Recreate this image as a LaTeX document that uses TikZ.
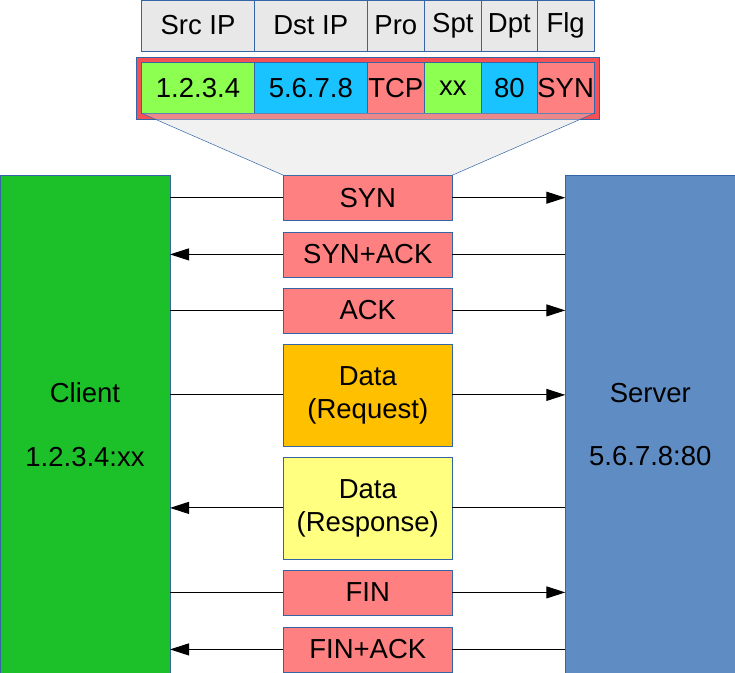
\documentclass[tikz,border=0pt]{standalone}
\usepackage{fontspec}
\setmainfont{Liberation Sans}
\usepackage{xcolor}
\usepackage{tikz}
\usetikzlibrary{arrows.meta,calc,positioning}
\definecolor{edgeblue}{HTML}{3465A4}
\definecolor{hdrgray}{HTML}{E8E8E8}
\definecolor{pktred}{HTML}{F55055}
\definecolor{ipgreen}{HTML}{8CFF50}
\definecolor{portcyan}{HTML}{18C3FF}
\definecolor{msgpink}{HTML}{FF8080}
\definecolor{reqorange}{HTML}{FFC000}
\definecolor{respyellow}{HTML}{FFFF80}
\definecolor{clientgreen}{HTML}{1CC12A}
\definecolor{serverblue}{HTML}{5F8CC3}
\definecolor{zoomgray}{HTML}{DCDCDC}
\tikzstyle{hdr}=[draw=edgeblue,fill=hdrgray,minimum height=51pt,inner sep=0pt,outer sep=0pt]
\tikzstyle{cell}=[draw=edgeblue,minimum height=51pt,inner sep=0pt,outer sep=0pt]
\tikzstyle{msg}=[draw=edgeblue,fill=msgpink,minimum width=169pt,minimum height=45pt,inner sep=0pt,outer sep=0pt,align=center]
\tikzstyle{host}=[draw=edgeblue,minimum width=170pt,minimum height=499pt,anchor=north west,outer sep=0pt,align=center]

\begin{document}
\begin{tikzpicture}[
            >={Triangle[length=19pt,width=12pt]},
            x=1pt, y=-1pt,
            font=\fontsize{27.5}{33}\selectfont,
            line width=0.8pt
        ]
        \useasboundingbox (0,0) rectangle (735,672);
        \clip (0,0) rectangle (735,672);
        % header row
        \node [hdr,minimum width=112.6pt] (hsrc) at (198,25.5) {Src IP};
        \node [hdr,minimum width=113pt,right=0pt of hsrc] (hdst) {Dst IP};
        \node [hdr,minimum width=57pt,right=0pt of hdst] (hpro) {Pro};
        \node [hdr,minimum width=57pt,right=0pt of hpro] (hspt) {Spt};
        \node [hdr,minimum width=56pt,right=0pt of hspt] (hdpt) {Dpt};
        \node [hdr,minimum width=56.7pt,right=0pt of hdpt] (hflg) {Flg};
        % packet row
        \node [draw=edgeblue,fill=pktred,minimum width=463.3pt,minimum height=61.7pt,inner sep=0pt] (pkt) at (367.65,88.15) {};
        \node [cell,fill=ipgreen,minimum width=112.6pt] (vsrc) at (198,87.8) {1.2.3.4};
        \node [cell,fill=portcyan,minimum width=113pt,right=0pt of vsrc] (vdst) {5.6.7.8};
        \node [cell,fill=msgpink,minimum width=57pt,right=0pt of vdst] (vpro) {TCP};
        \node [cell,fill=ipgreen,minimum width=57pt,right=0pt of vpro] (vspt) {xx};
        \node [cell,fill=portcyan,minimum width=56pt,right=0pt of vspt] (vdpt) {80};
        \node [cell,fill=msgpink,minimum width=56.7pt,right=0pt of vdpt] (vflg) {SYN};
        % hosts
        \node [host,fill=clientgreen] (client) at (0,175) {Client\\[30.5pt]1.2.3.4:xx};
        \node [host,fill=serverblue] (server) at (565.3,175) {Server\\[30.5pt]5.6.7.8:80};
        % messages
        \node [msg] (syn) at (367.8,197.7) {SYN};
        \node [msg,below=11.7pt of syn] (synack) {SYN+ACK};
        \node [msg,below=11pt of synack] (ack) {ACK};
        \node [msg,fill=reqorange,minimum height=102pt,below=11pt of ack] (req) {Data\\(Request)};
        \node [msg,fill=respyellow,minimum height=102pt,below=11pt of req] (resp) {Data\\(Response)};
        \node [msg,below=11pt of resp] (fin) {FIN};
        \node [msg,below=12pt of fin] (finack) {FIN+ACK};
        % zoom
        \fill[zoomgray,fill opacity=0.4] (vsrc.south west) -- (vflg.south east) -- (syn.north east) -- (syn.north west) -- cycle;
        \draw[edgeblue,line width=0.5pt] (vsrc.south west) -- (syn.north west) (vflg.south east) -- (syn.north east);
        % arrows
        \foreach \m in {syn,ack,req,fin} {
            \draw[line width=1pt] (client.east |- \m.west) -- (\m.west);
            \draw[line width=1pt,->] (\m.east) -- (server.west |- \m.east);
        }
        \foreach \m in {synack,resp,finack} {
            \draw[line width=1pt,->] (\m.west) -- (client.east |- \m.west);
            \draw[line width=1pt] (server.west |- \m.east) -- (\m.east);
        }
    \end{tikzpicture}
\end{document}
